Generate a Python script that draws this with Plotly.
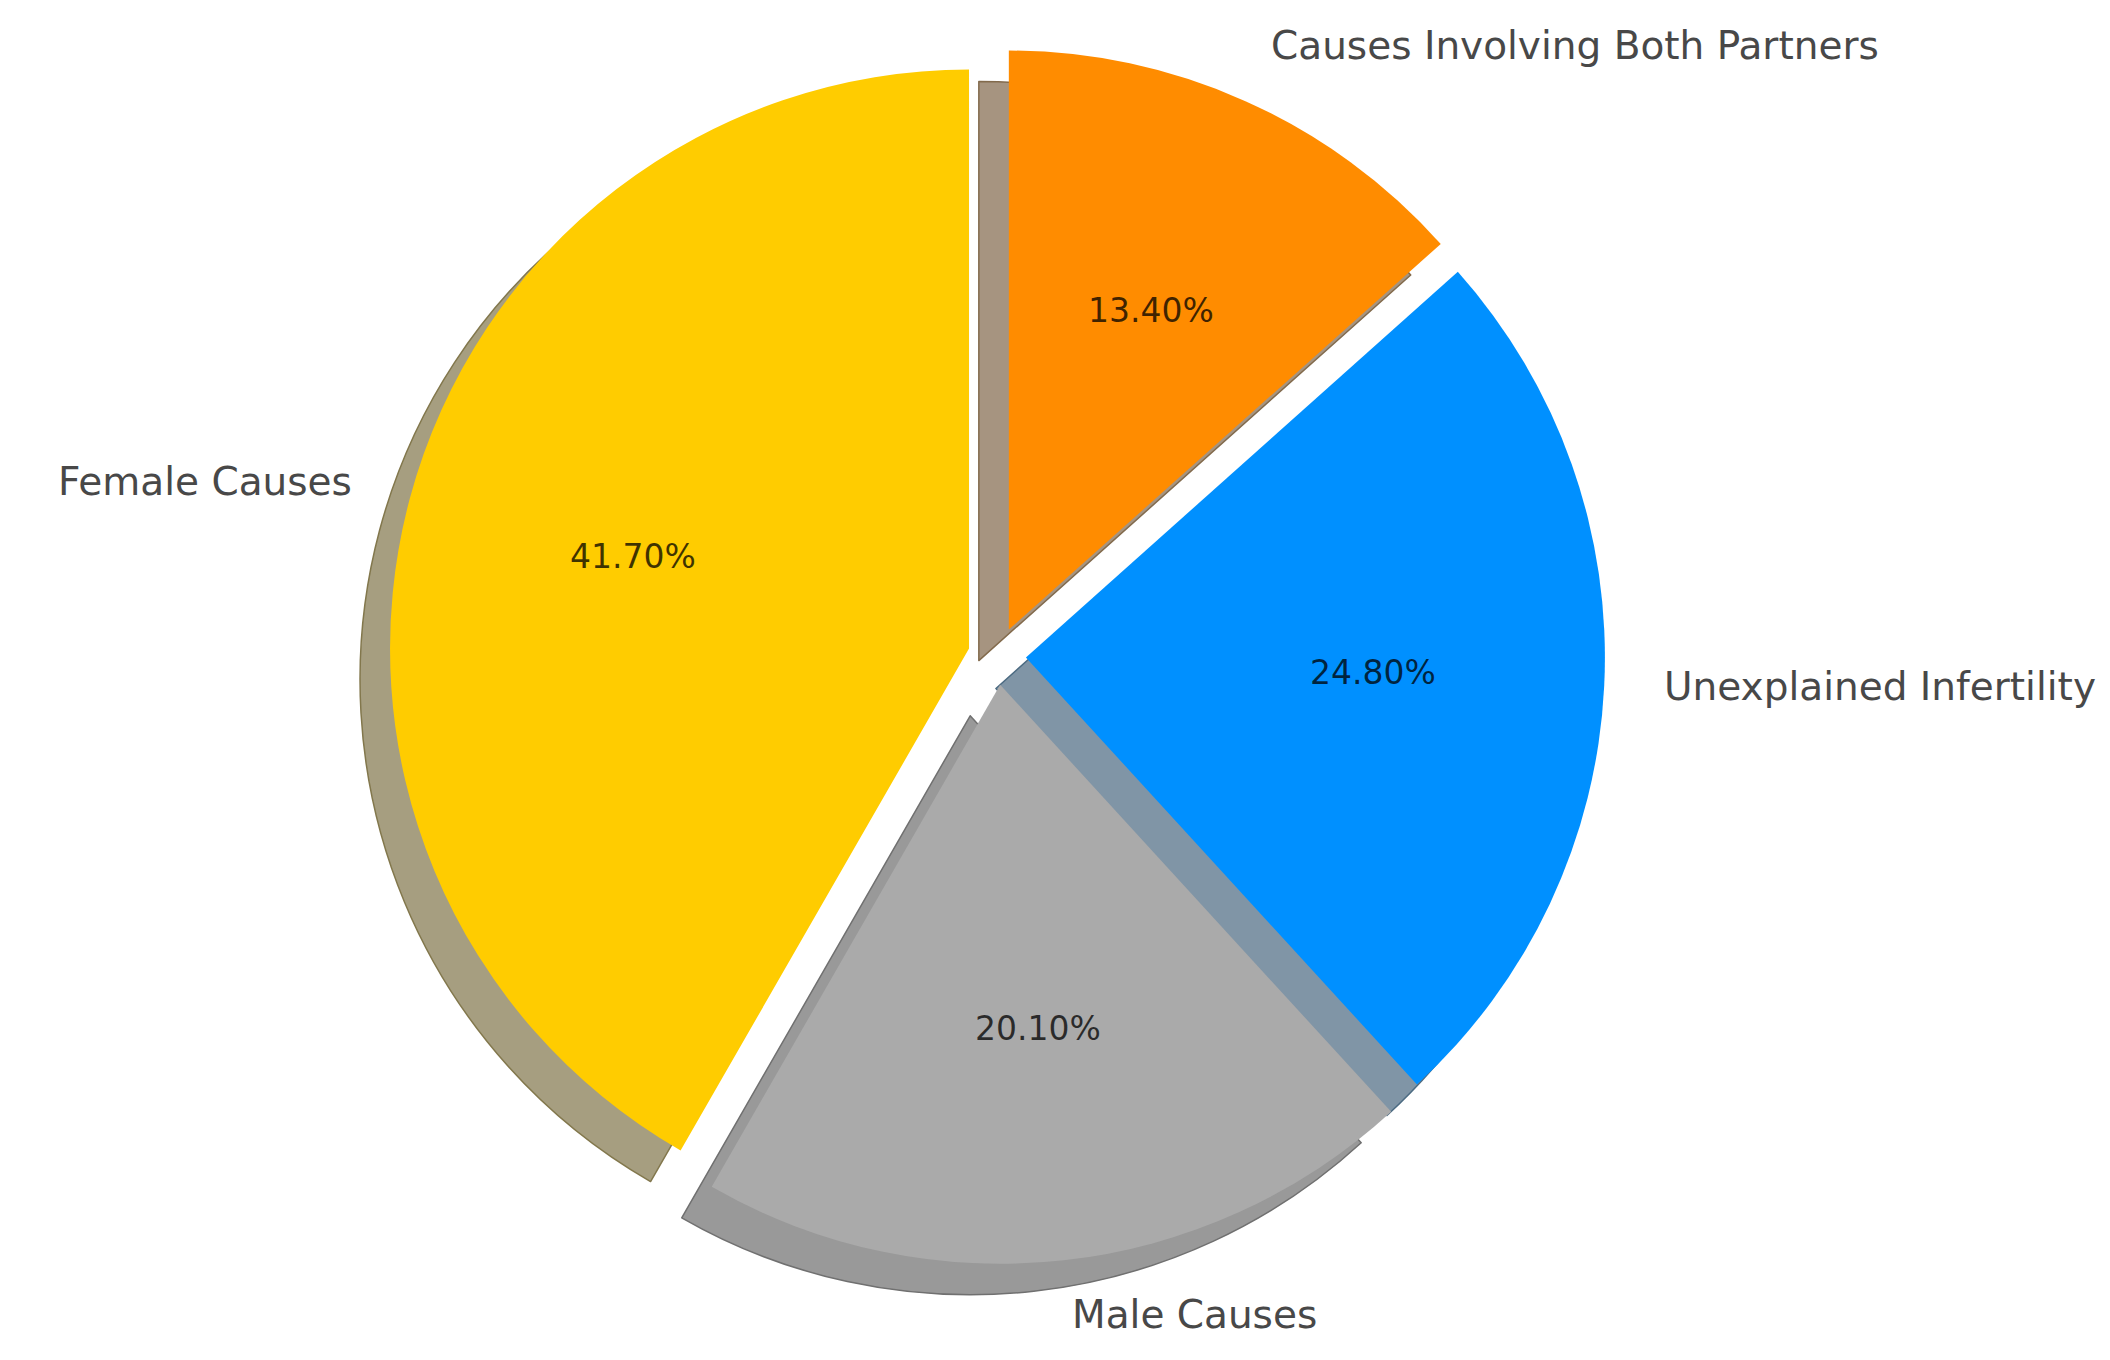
import math
import plotly.graph_objects as go

# ---- data ----
categories = ["Female Causes", "Male Causes", "Unexplained Infertility", "Causes Involving Both Partners"]
values = [41.7, 20.1, 24.8, 13.4]
pct_labels = ["41.70%", "20.10%", "24.80%", "13.40%"]

# ---- styling ----
colors = ["#FFCC00", "#AAAAAA", "#0090FF", "#FF8C00"]
W, H = 2110, 1360
PULL = 0.05
FONT = "DejaVu Sans"


def shadow_color(hexc, a=0.5, k=0.3):
    h = hexc.lstrip("#")
    r, g, b = (int(h[i:i + 2], 16) for i in (0, 2, 4))
    mix = lambda c: int(round((c * k) * a + 255 * (1 - a)))
    return "rgb(%d,%d,%d)" % (mix(r), mix(g), mix(b))


def edge_color(hexc, k=0.3):
    h = hexc.lstrip("#")
    r, g, b = (int(h[i:i + 2], 16) for i in (0, 2, 4))
    mix = lambda c: int(round((c * k) * 0.7 + 255 * 0.3))
    return "rgb(%d,%d,%d)" % (mix(r), mix(g), mix(b))


shadow_colors = [shadow_color(c) for c in colors]
shadow_edges = [edge_color(c) for c in colors]

total = sum(values)
# plotly starts the first counterclockwise slice so it ends at the rotation angle;
# rotate so the first slice starts at 12 o'clock and runs counterclockwise
rot = -360.0 * values[0] / total

# pie placement (pixels)
cx, cy_top, r = 989.0, 648.0, 579.0
half = r * (1 + PULL)
xdom = [(cx - half) / W, (cx + half) / W]
ydom = [(H - cy_top - half) / H, (H - cy_top + half) / H]
sdx, sdy = 30.0 / W, 31.0 / H
xdom_s = [xdom[0] - sdx, xdom[1] - sdx]
ydom_s = [ydom[0] - sdy, ydom[1] - sdy]

fig = go.Figure()
fig.add_trace(go.Pie(
    labels=categories, values=values, sort=False, direction="counterclockwise",
    rotation=rot, pull=[PULL] * len(values),
    marker=dict(colors=shadow_colors, line=dict(color=shadow_edges, width=1.5)),
    textinfo="none", hoverinfo="skip", showlegend=False,
    domain=dict(x=xdom_s, y=ydom_s),
))
fig.add_trace(go.Pie(
    labels=categories, values=values, sort=False, direction="counterclockwise",
    rotation=rot, pull=[PULL] * len(values),
    marker=dict(colors=colors, line=dict(width=0)),
    textinfo="none", showlegend=False,
    domain=dict(x=xdom, y=ydom),
))

# text annotations positioned from the data angles
cum = 0.0
annotations = []
for lab, v, pl in zip(categories, values, pct_labels):
    start = 90 + 360 * cum / total
    cum += v
    end = 90 + 360 * cum / total
    mid = math.radians((start + end) / 2)
    dx, dy = math.cos(mid), math.sin(mid)
    # outer label
    lx = cx + (1.1 + PULL) * r * dx
    ly = cy_top - (1.1 + PULL) * r * dy - 3
    annotations.append(dict(
        x=lx / W, y=1 - ly / H, xref="paper", yref="paper", text=lab, showarrow=False,
        xanchor="left" if dx > 0 else "right", yanchor="middle",
        font=dict(family=FONT, size=39, color="#484848"),
    ))
    # percentage label
    px = cx + (0.6 + PULL) * r * dx
    py = cy_top - (0.6 + PULL) * r * dy - 2
    annotations.append(dict(
        x=px / W, y=1 - py / H, xref="paper", yref="paper", text=pl, showarrow=False,
        xanchor="center", yanchor="middle",
        font=dict(family=FONT, size=33, color="rgba(0,0,0,0.75)"),
    ))

fig.update_layout(
    width=W, height=H, margin=dict(l=0, r=0, t=0, b=0),
    paper_bgcolor="white", plot_bgcolor="white",
    annotations=annotations,
)
fig.write_html("out.html")
